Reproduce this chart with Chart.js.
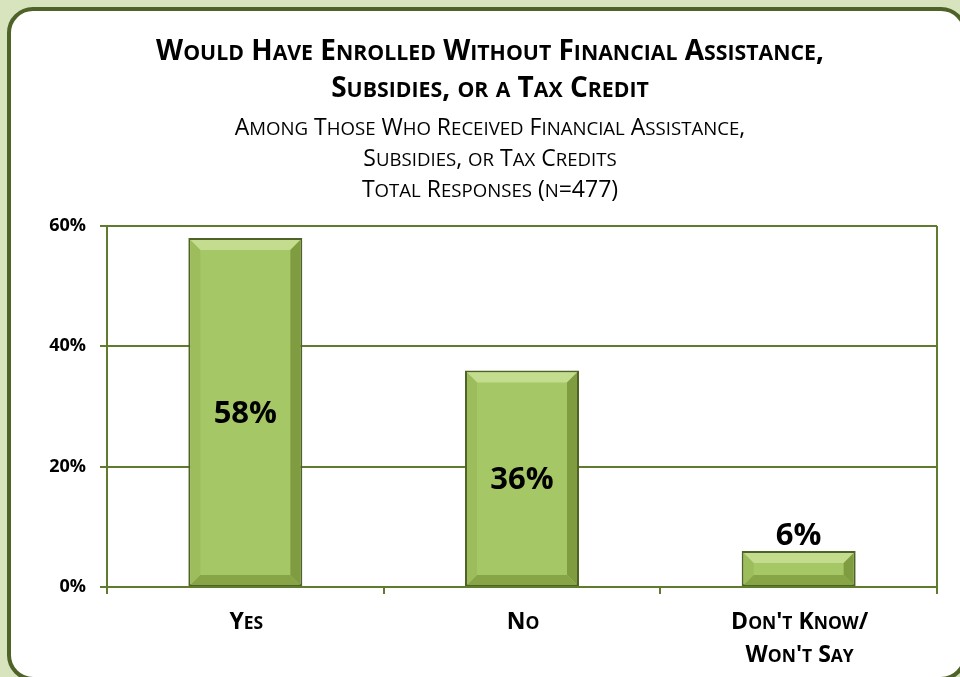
<!DOCTYPE html>
<html>
<head>
<meta charset="utf-8">
<script src="https://cdn.jsdelivr.net/npm/chart.js@4"></script>
<style>
    body { margin: 0; background: #d7e4bd; overflow: hidden; }
    #frame {
        position: absolute; left: 7px; top: 7px; width: 952px; height: 666px;
        border: 4px solid #4f6228; border-radius: 26px; background: #ffffff;
    }
    #chart { position: absolute; left: 0; top: 0; }
</style>
</head>
<body>
<div id="frame"></div>
<canvas id="chart" width="960" height="677"></canvas>
<script>
// chart values
const categories = [["Yes"], ["No"], ["Don't Know/", "Won't Say"]];
const shares = [58, 36, 6];
const shareLabels = ["58%", "36%", "6%"];
const yTicks = [0, 20, 40, 60];

const titleLines = ["Would Have Enrolled Without Financial Assistance,", "Subsidies, or a Tax Credit"];
const subtitleLines = ["Among Those Who Received Financial Assistance,", "Subsidies, or Tax Credits", "Total Responses (n=477)"];

const OLIVE = "#4f6228";
const GRID = "#5f7b2d";
const FAMILY = "'Open Sans', Lato, sans-serif";

function smallCapsRuns(text) {
    /**
     * Splits a string into runs of capitals and of lower case letters,
     * so the lower case runs can be drawn as smaller capitals.
     */
    const runs = [];
    for (const ch of text) {
        const small = ch !== ch.toUpperCase();
        const last = runs[runs.length - 1];
        if (last && last.small === small) {
            last.text += small ? ch.toUpperCase() : ch;
        } else {
            runs.push({small, text: small ? ch.toUpperCase() : ch});
        }
    }
    return runs;
}

function drawSmallCaps(ctx, text, cx, baseline, size, weight, ratio) {
    const runs = smallCapsRuns(text);
    const fontFor = r => `${weight} ${r.small ? size * ratio : size}px ${FAMILY}`;
    let total = 0;
    runs.forEach(r => {
        ctx.font = fontFor(r);
        r.w = ctx.measureText(r.text).width;
        total += r.w;
    });
    let x = cx - total / 2;
    ctx.textAlign = "left";
    ctx.textBaseline = "alphabetic";
    runs.forEach(r => {
        ctx.font = fontFor(r);
        ctx.fillText(r.text, x, baseline);
        x += r.w;
    });
}

// title, subtitle and category labels in Excel's small caps
const smallCapsTextPlugin = {
    id: "smallCapsText",
    afterDraw(chart) {
        const ctx = chart.ctx;
        const mid = 490;
        ctx.save();
        ctx.fillStyle = "#000000";
        titleLines.forEach((line, i) => drawSmallCaps(ctx, line, mid, 60 + i * 37, 28, "bold", 0.76));
        subtitleLines.forEach((line, i) => drawSmallCaps(ctx, line, mid, 135 + i * 31, 23, "normal", 0.81));
        const xScale = chart.scales.x;
        categories.forEach((lines, i) => {
            const x = xScale.getPixelForTick(i);
            lines.forEach((line, j) => drawSmallCaps(ctx, line, x + 1, 629 + j * 33, 23, "bold", 0.76));
        });
        ctx.restore();
    }
};

// beveled look of the Excel bars, drawn over the bar elements
const bevelPlugin = {
    id: "bevel",
    afterDatasetsDraw(chart) {
        const ctx = chart.ctx;
        chart.getDatasetMeta(0).data.forEach(bar => {
            const left = bar.x - bar.width / 2 + 2;
            const right = bar.x + bar.width / 2 - 2;
            const top = bar.y + 2;
            const bottom = bar.base - 1;
            const b = Math.min(10, (bottom - top) / 2 - 1);
            ctx.save();
            // top edge
            ctx.fillStyle = "#c3dc8d";
            ctx.beginPath();
            ctx.moveTo(left, top); ctx.lineTo(right, top);
            ctx.lineTo(right - b, top + b); ctx.lineTo(left + b, top + b);
            ctx.closePath(); ctx.fill();
            // left edge
            ctx.fillStyle = "#9dbd5c";
            ctx.beginPath();
            ctx.moveTo(left, top); ctx.lineTo(left + b, top + b);
            ctx.lineTo(left + b, bottom - b); ctx.lineTo(left, bottom);
            ctx.closePath(); ctx.fill();
            // right edge
            ctx.fillStyle = "#7f9d40";
            ctx.beginPath();
            ctx.moveTo(right, top); ctx.lineTo(right - b, top + b);
            ctx.lineTo(right - b, bottom - b); ctx.lineTo(right, bottom);
            ctx.closePath(); ctx.fill();
            // bottom edge
            ctx.fillStyle = "#87a546";
            ctx.beginPath();
            ctx.moveTo(left, bottom); ctx.lineTo(left + b, bottom - b);
            ctx.lineTo(right - b, bottom - b); ctx.lineTo(right, bottom);
            ctx.closePath(); ctx.fill();
            ctx.restore();
        });
    }
};

// percentage labels, inside tall bars and above short ones
const valueLabelPlugin = {
    id: "valueLabels",
    afterDatasetsDraw(chart) {
        const ctx = chart.ctx;
        ctx.save();
        ctx.font = "bold 31px " + FAMILY;
        ctx.fillStyle = "#000000";
        ctx.textAlign = "center";
        ctx.textBaseline = "middle";
        chart.getDatasetMeta(0).data.forEach((bar, i) => {
            const h = bar.base - bar.y;
            const y = h > 60 ? bar.y + h / 2 + 2 : bar.y - 15;
            ctx.fillText(shareLabels[i], bar.x, y);
        });
        ctx.restore();
    }
};

new Chart(document.getElementById("chart"), {
    type: "bar",
    data: {
        labels: categories,
        datasets: [{
            data: shares,
            backgroundColor: "#a6c766",
            borderColor: OLIVE,
            borderWidth: 2,
            borderSkipped: false,
            barPercentage: 0.412,
            categoryPercentage: 1.0
        }]
    },
    options: {
        responsive: false,
        devicePixelRatio: 1,
        animation: false,
        layout: {padding: {left: 20, right: 23, top: 226, bottom: 0}},
        plugins: {
            legend: {display: false},
            tooltip: {enabled: false},
            title: {display: false},
            subtitle: {display: false}
        },
        scales: {
            x: {
                border: {display: true, color: GRID, width: 2},
                grid: {
                    offset: true,
                    lineWidth: 2,
                    color: c => (c.type !== "tick" || c.index === 0) ? GRID : "rgba(0,0,0,0)",
                    tickColor: GRID,
                    tickLength: 7
                },
                ticks: {display: false},
                afterFit: scale => { scale.height = 90; }
            },
            y: {
                min: 0,
                max: 60,
                afterBuildTicks: scale => { scale.ticks = yTicks.map(v => ({value: v})); },
                border: {display: true, color: GRID, width: 2},
                grid: {color: GRID, lineWidth: 2, tickLength: 7},
                ticks: {
                    color: "#000000",
                    padding: 14,
                    callback: v => v + "%",
                    font: {family: FAMILY, size: 18, weight: "bold"}
                },
                afterFit: scale => { scale.width = 87; }
            }
        }
    },
    plugins: [bevelPlugin, valueLabelPlugin, smallCapsTextPlugin]
});
</script>
</body>
</html>
